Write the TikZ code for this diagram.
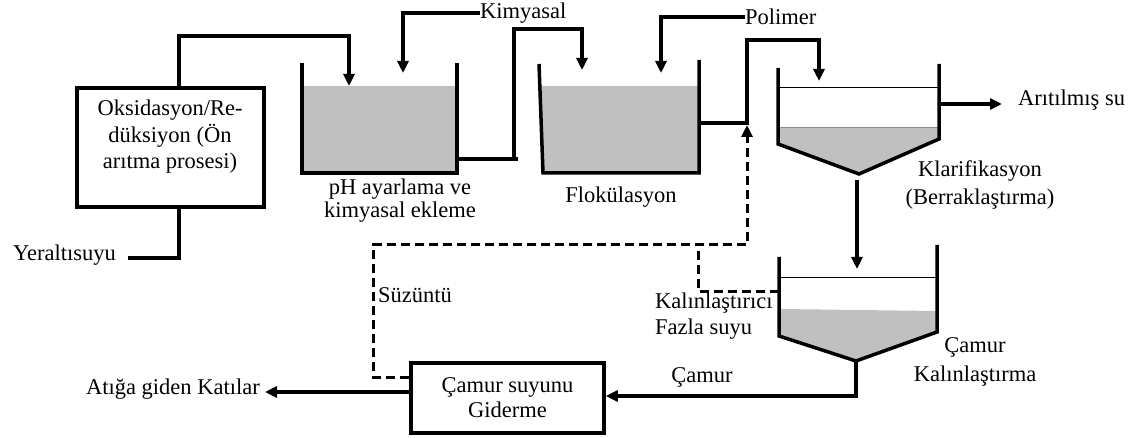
\documentclass[tikz,border=0pt]{standalone}
\usepackage{fontspec}
\setmainfont{Liberation Serif}
\usepackage{tikz}
\usetikzlibrary{arrows.meta,positioning}
\definecolor{sludge}{RGB}{192,192,192}
\tikzset{
  pipe/.style={line width=3.5pt},
  flow/.style={pipe,-{Triangle[length=12pt,width=11pt]}},
  recyc/.style={line width=3pt,dash pattern=on 9pt off 5pt},
  level/.style={line width=1pt},
  lbl/.style={inner sep=0pt,align=center,font=\fontsize{22.5}{26}\selectfont},
  unitbox/.style={draw,line width=3.5pt,inner sep=0pt,align=center}
}
\begin{document}
\begin{tikzpicture}[x=1pt,y=-1pt]
\useasboundingbox (0,0) rectangle (1137,438);
% pre-treatment box
\node[unitbox,minimum width=187pt,minimum height=119pt] (oks) at (170.5,147.5) {};
\node[lbl,font=\fontsize{22.5}{26.5}\selectfont] (okstxt) at (170,137) {Oksidasyon/Re-\\düksiyon (Ön\\arıtma prosesi)};
\node[lbl,anchor=east] (yer) at (116,255) {Yeraltısuyu};
\coordinate (in) at (128,258);
% tank 1: pH
\fill[sludge] (302,86) rectangle (457,173);
\draw[pipe] (302,63) -- (302,173) -- (457,173) -- (457,63);
\coordinate (t1in) at (349,86);
\coordinate (t1chem) at (403,73);
\coordinate (t1out) at (457,159);
\node[lbl,font=\fontsize{22.5}{23}\selectfont] (phtxt) at (400,201) {pH ayarlama ve\\kimyasal ekleme};
% tank 2: flokulasyon
\fill[sludge] (539.8,86) -- (543,173) -- (699,173) -- (699,86) -- cycle;
\draw[pipe] (539,64) -- (543,173) -- (699,173) -- (699,60);
\coordinate (t2in) at (582,70);
\coordinate (t2pol) at (661,73);
\coordinate (t2out) at (699,123);
\node[lbl] (flotxt) at (621,197) {Flokülasyon};
% tank 3: klarifikasyon
\fill[sludge] (778,128) -- (939,128) -- (939,139) -- (859,174) -- (778,144) -- cycle;
\draw[level] (778,88) -- (939,88);
\draw[level,black!45] (778,128) -- (939,128);
\draw[pipe] (778,68) -- (778,144) -- (859,174) -- (939,139) -- (939,64);
\coordinate (t3in) at (819,81);
\coordinate (t3out) at (939,104);
\coordinate (t3bot) at (857,180);
\node[lbl,font=\fontsize{22.5}{28}\selectfont] (klatxt) at (980,185) {Klarifikasyon\\(Berraklaştırma)};
\node[lbl,anchor=west] (arit) at (1018,100) {Arıtılmış su};
\coordinate (aritend) at (1002,104);
% tank 4: camur kalinlastirma
\fill[sludge] (779,309) -- (937,311) -- (937,332) -- (856,361) -- (779,336) -- cycle;
\draw[level] (779,277) -- (937,277);
\draw[pipe] (779,257) -- (779,336) -- (856,361) -- (937,332) -- (937,245);
\coordinate (t4in) at (857,269);
\coordinate (t4side) at (779,291);
\coordinate (t4bot) at (856,361);
\node[lbl,font=\fontsize{22.5}{29}\selectfont] (kaltxt) at (975,362) {Çamur\\Kalınlaştırma};
\node[lbl,anchor=west,align=left] (fazla) at (655,316) {Kalınlaştırıcı\\Fazla suyu};
% dewatering box
\node[unitbox,minimum width=193pt,minimum height=70pt,font=\fontsize{22.5}{25}\selectfont] (cam) at (507.5,398) {Çamur suyunu\\Giderme};
\node[lbl,anchor=east] (atik) at (260,389) {Atığa giden Katılar};
\coordinate (atikend) at (265,392);
\node[lbl] (camtxt) at (702,377) {Çamur};
\node[lbl,anchor=west] (suz) at (378,295) {Süzüntü};
\node[lbl,anchor=west] (kim) at (480,13) {Kimyasal};
\node[lbl,anchor=west] (pol) at (745,17) {Polimer};
% connectors
\draw[pipe] (in) -| ([xshift=8.5pt]oks.south);
\draw[flow] ([xshift=8.5pt]oks.north) |- (349,36) -- (t1in);
\draw[flow] (kim.west) -| (t1chem);
\draw[pipe] (t1out) -- (518,159);
\draw[flow] (514,159) |- (582,29) -- (t2in);
\draw[flow] (pol.west) -| (t2pol);
\draw[flow] (t2out) -| (747,40) -| (t3in);
\draw[flow] (t3out) -- (aritend);
\draw[flow] (t3bot) -- (t4in);
\draw[flow] (t4bot) |- ([yshift=2pt]cam.east);
\draw[flow] ([yshift=6pt]cam.west) -- (atikend);
\draw[recyc,-{Triangle[length=12pt,width=11pt]}] ([yshift=21pt]cam.west) -| (373,245) -| (747,125);
\draw[recyc] (t4side) -| (698,245);
\end{tikzpicture}
\end{document}
